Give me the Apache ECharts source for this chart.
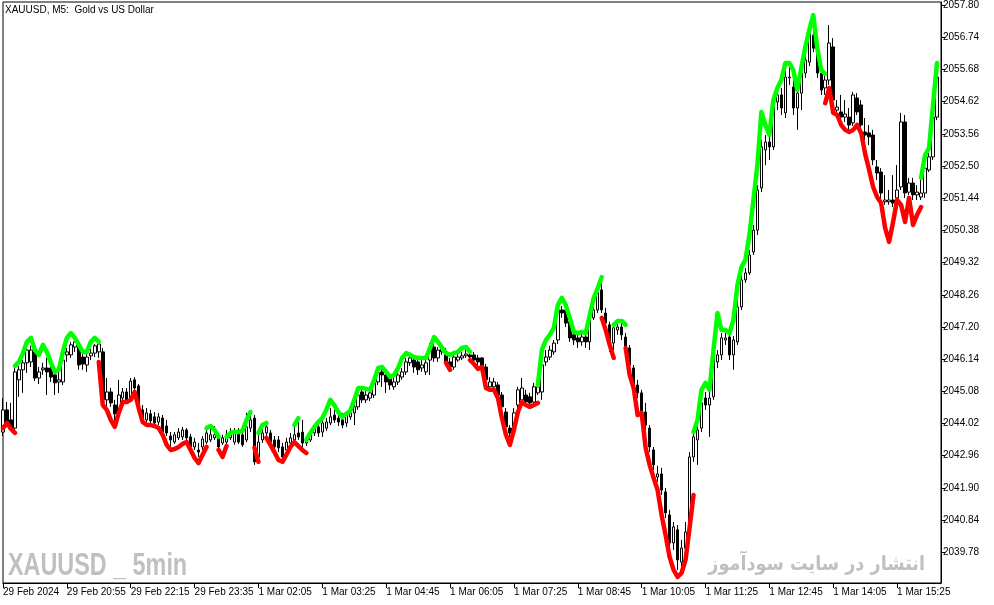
<!DOCTYPE html>
<html>
<head>
<meta charset="utf-8">
<title>XAUUSD M5</title>
<script src="https://cdn.jsdelivr.net/npm/echarts@6.0.0/dist/echarts.min.js"></script>
<style>
  html, body { margin: 0; padding: 0; background: #fff; }
  #chart { width: 994px; height: 605px; }
</style>
</head>
<body>
<div id="chart"></div>
<script>
// M5 candles, 29 Feb 19:35 -> 1 Mar 16:05 (235 bars)
const opens = [
  2043.74, 2044.47, 2044.14, 2043.87, 2045.46, 2045.79, 2046.02, 2046.05, 2046.38, 2045.52,
  2045.79, 2045.85, 2045.85, 2045.62, 2045.39, 2045.39, 2046.28, 2046.28, 2046.54, 2046.54,
  2046.21, 2045.95, 2046.25, 2046.34, 2046.38, 2046.38, 2044.80, 2045.06, 2044.63, 2044.40,
  2044.86, 2045.06, 2044.86, 2045.46, 2045.26, 2044.47, 2044.14, 2044.34, 2044.24, 2044.07,
  2044.20, 2043.94, 2043.61, 2043.41, 2043.55, 2043.58, 2043.81, 2043.58, 2043.25, 2043.15,
  2043.25, 2043.41, 2043.48, 2043.55, 2043.55, 2043.38, 2043.41, 2043.55, 2043.41, 2043.74,
  2043.65, 2043.48, 2043.87, 2044.20, 2042.92, 2043.48, 2043.71, 2043.71, 2043.48, 2043.48,
  2043.25, 2043.15, 2043.38, 2043.48, 2043.71, 2043.74, 2043.38, 2043.48, 2043.71, 2043.91,
  2043.74, 2043.87, 2044.04, 2044.30, 2044.20, 2044.14, 2044.04, 2044.24, 2044.37, 2044.57,
  2045.06, 2044.80, 2044.86, 2044.96, 2045.39, 2045.72, 2045.62, 2045.52, 2045.23, 2045.39,
  2045.55, 2045.72, 2046.02, 2046.11, 2046.05, 2045.85, 2045.72, 2046.11, 2046.54, 2046.18,
  2046.38, 2046.38, 2046.05, 2045.88, 2046.11, 2046.18, 2046.25, 2046.28, 2046.28, 2046.18,
  2046.18, 2045.88, 2045.23, 2045.23, 2045.29, 2044.96, 2044.40, 2043.87, 2043.91, 2044.63,
  2044.80, 2044.96, 2044.90, 2044.73, 2045.03, 2045.06, 2046.05, 2046.21, 2046.38, 2046.77,
  2047.76, 2047.76, 2047.37, 2046.94, 2046.84, 2046.71, 2046.87, 2046.71, 2047.50, 2047.76,
  2048.42, 2047.66, 2047.27, 2046.67, 2047.10, 2047.20, 2046.87, 2046.51, 2045.85, 2045.29,
  2045.03, 2044.40, 2043.87, 2043.15, 2042.26, 2042.36, 2041.77, 2041.01, 2040.09, 2040.52,
  2039.46, 2039.92, 2040.35, 2042.92, 2043.48, 2043.87, 2044.86, 2044.63, 2044.90, 2046.05,
  2046.28, 2046.77, 2046.87, 2046.28, 2046.71, 2047.86, 2048.75, 2048.98, 2049.67, 2050.39,
  2051.78, 2053.03, 2053.29, 2053.13, 2054.61, 2054.84, 2054.25, 2055.40, 2055.10, 2054.41,
  2054.90, 2055.56, 2055.92, 2056.81, 2056.42, 2055.56, 2055.07, 2055.33, 2056.42, 2054.34,
  2054.28, 2054.11, 2054.11, 2053.92, 2054.74, 2054.51, 2053.62, 2053.59, 2053.52, 2052.47,
  2052.30, 2051.32, 2051.32, 2051.38, 2051.45, 2051.81, 2053.95, 2051.64, 2051.94, 2051.55,
  2051.48, 2051.61, 2052.37, 2052.80, 2054.11
];
const closes = [
  2044.47, 2044.07, 2043.87, 2045.72, 2045.79, 2046.02, 2046.44, 2046.44, 2045.52, 2045.72,
  2045.85, 2045.72, 2045.55, 2045.36, 2045.46, 2046.11, 2046.38, 2046.61, 2046.71, 2045.95,
  2045.98, 2046.21, 2046.34, 2046.58, 2046.64, 2044.80, 2045.06, 2044.70, 2044.34, 2044.96,
  2045.06, 2044.80, 2045.42, 2045.19, 2044.47, 2044.14, 2044.37, 2044.11, 2044.04, 2044.24,
  2043.74, 2043.71, 2043.48, 2043.65, 2043.74, 2043.81, 2043.55, 2043.25, 2043.41, 2043.08,
  2043.51, 2043.71, 2043.65, 2043.65, 2043.25, 2043.55, 2043.65, 2043.74, 2043.74, 2043.41,
  2043.32, 2043.91, 2044.14, 2042.76, 2043.41, 2043.71, 2043.91, 2043.41, 2043.25, 2043.22,
  2042.92, 2043.41, 2043.55, 2043.65, 2043.58, 2043.38, 2043.48, 2043.74, 2043.91, 2043.71,
  2044.04, 2044.07, 2044.24, 2044.14, 2044.07, 2043.97, 2044.30, 2044.37, 2044.57, 2044.96,
  2044.80, 2044.96, 2045.03, 2045.36, 2045.69, 2045.62, 2045.39, 2045.29, 2045.39, 2045.62,
  2045.72, 2046.05, 2046.18, 2045.88, 2045.79, 2045.95, 2046.02, 2046.54, 2046.18, 2046.44,
  2046.54, 2046.05, 2045.88, 2046.21, 2046.21, 2046.25, 2046.31, 2046.21, 2046.11, 2046.05,
  2045.88, 2045.46, 2045.39, 2045.39, 2044.96, 2044.57, 2043.91, 2043.71, 2044.37, 2045.13,
  2045.19, 2044.73, 2044.70, 2045.23, 2045.23, 2045.95, 2046.21, 2046.44, 2046.67, 2047.76,
  2047.66, 2047.33, 2046.84, 2046.77, 2046.71, 2046.87, 2046.71, 2047.50, 2047.76, 2048.32,
  2047.76, 2047.33, 2046.67, 2047.17, 2047.20, 2046.94, 2046.51, 2045.95, 2045.29, 2045.03,
  2044.40, 2043.97, 2043.25, 2042.66, 2042.36, 2041.83, 2041.08, 2040.09, 2040.62, 2039.53,
  2039.92, 2040.45, 2042.92, 2043.58, 2043.81, 2044.70, 2044.63, 2044.86, 2046.28, 2046.28,
  2046.84, 2046.84, 2046.28, 2046.77, 2047.86, 2048.75, 2048.98, 2049.57, 2050.39, 2051.71,
  2053.13, 2053.29, 2053.13, 2054.44, 2054.84, 2054.41, 2055.43, 2055.43, 2054.41, 2054.90,
  2055.56, 2055.99, 2056.88, 2056.38, 2055.56, 2055.00, 2055.33, 2056.55, 2054.67, 2054.44,
  2054.11, 2054.21, 2053.85, 2054.84, 2054.28, 2053.85, 2053.52, 2053.46, 2052.70, 2052.27,
  2051.61, 2051.38, 2051.38, 2051.28, 2051.71, 2053.95, 2051.61, 2051.94, 2051.55, 2051.64,
  2051.61, 2052.43, 2052.80, 2054.11, 2055.43
];
const lows = [
  2043.61, 2043.91, 2043.81, 2043.74, 2044.90, 2045.03, 2045.69, 2045.88, 2045.42, 2045.32,
  2045.62, 2044.96, 2045.39, 2044.96, 2045.03, 2045.29, 2046.05, 2046.18, 2046.38, 2045.79,
  2045.79, 2045.72, 2046.11, 2046.21, 2046.18, 2044.67, 2044.53, 2044.57, 2044.04, 2044.27,
  2044.73, 2044.67, 2044.80, 2045.06, 2044.34, 2044.01, 2044.07, 2043.97, 2043.87, 2043.97,
  2043.68, 2043.61, 2043.25, 2043.35, 2043.48, 2043.48, 2043.45, 2043.18, 2043.15, 2042.92,
  2043.15, 2043.35, 2043.41, 2043.48, 2043.18, 2043.32, 2043.28, 2043.48, 2043.32, 2043.35,
  2043.25, 2043.41, 2043.74, 2042.66, 2042.82, 2043.38, 2043.61, 2043.32, 2043.15, 2043.08,
  2042.76, 2043.02, 2043.28, 2043.41, 2043.48, 2043.05, 2043.28, 2043.41, 2043.61, 2043.58,
  2043.58, 2043.78, 2043.97, 2044.04, 2043.94, 2043.87, 2043.91, 2044.14, 2043.97, 2044.47,
  2044.70, 2044.70, 2044.76, 2044.86, 2045.29, 2045.23, 2045.03, 2045.13, 2045.13, 2045.29,
  2045.46, 2045.62, 2045.92, 2045.69, 2045.62, 2045.72, 2045.62, 2045.62, 2046.05, 2046.05,
  2046.28, 2045.95, 2045.79, 2045.79, 2046.05, 2046.11, 2046.18, 2046.05, 2045.98, 2045.92,
  2045.72, 2045.36, 2045.13, 2045.13, 2044.86, 2044.47, 2043.81, 2043.58, 2043.81, 2044.53,
  2044.70, 2044.63, 2044.60, 2044.63, 2044.96, 2044.80, 2045.92, 2046.11, 2046.28, 2046.64,
  2047.50, 2047.20, 2046.71, 2046.61, 2046.51, 2046.58, 2046.51, 2046.44, 2047.43, 2047.66,
  2047.66, 2047.20, 2046.38, 2046.44, 2046.94, 2046.77, 2046.38, 2045.79, 2045.06, 2044.86,
  2043.91, 2043.81, 2043.08, 2042.49, 2042.10, 2041.67, 2040.91, 2039.92, 2039.86, 2039.20,
  2039.00, 2039.79, 2040.19, 2042.76, 2042.66, 2043.74, 2044.47, 2043.58, 2044.80, 2045.85,
  2046.11, 2046.61, 2046.11, 2045.79, 2046.61, 2047.76, 2048.65, 2048.91, 2049.57, 2050.23,
  2051.64, 2052.53, 2052.70, 2053.03, 2054.34, 2054.18, 2054.08, 2055.17, 2054.18, 2053.69,
  2054.34, 2055.40, 2055.79, 2056.25, 2055.40, 2054.84, 2054.84, 2055.17, 2054.51, 2054.28,
  2054.01, 2053.95, 2053.69, 2053.82, 2054.18, 2053.69, 2053.36, 2053.19, 2052.53, 2052.04,
  2051.38, 2051.22, 2051.22, 2051.15, 2051.38, 2051.71, 2051.45, 2051.55, 2051.38, 2051.38,
  2051.38, 2051.45, 2052.30, 2052.70, 2054.01
];
const highs = [
  2044.86, 2044.73, 2044.70, 2045.92, 2045.92, 2046.11, 2046.58, 2046.58, 2046.48, 2045.88,
  2046.02, 2046.18, 2046.05, 2045.79, 2045.79, 2046.21, 2046.51, 2046.71, 2046.84, 2046.67,
  2046.34, 2046.44, 2046.48, 2046.64, 2046.77, 2046.51, 2045.52, 2045.19, 2044.80, 2045.46,
  2045.19, 2045.19, 2045.52, 2045.55, 2045.32, 2044.63, 2044.53, 2044.47, 2044.40, 2044.37,
  2044.30, 2044.14, 2043.74, 2043.74, 2043.87, 2043.91, 2043.87, 2043.68, 2043.55, 2043.38,
  2043.61, 2043.81, 2043.87, 2043.94, 2043.71, 2043.65, 2043.81, 2043.87, 2043.87, 2043.87,
  2043.81, 2044.37, 2044.40, 2044.30, 2043.81, 2043.87, 2044.04, 2043.81, 2043.61, 2043.61,
  2043.38, 2043.55, 2043.71, 2043.97, 2044.14, 2044.14, 2043.61, 2043.81, 2044.01, 2044.04,
  2044.14, 2044.20, 2044.53, 2044.53, 2044.34, 2044.37, 2044.37, 2044.47, 2044.70, 2045.06,
  2045.16, 2045.09, 2045.13, 2045.46, 2045.79, 2045.95, 2045.79, 2045.69, 2045.52, 2045.72,
  2045.85, 2046.18, 2046.31, 2046.25, 2046.11, 2046.11, 2046.11, 2046.67, 2046.67, 2046.54,
  2046.67, 2046.51, 2046.18, 2046.31, 2046.31, 2046.38, 2046.44, 2046.38, 2046.38, 2046.28,
  2046.21, 2045.98, 2045.55, 2045.52, 2045.39, 2045.06, 2044.53, 2043.97, 2044.53, 2045.23,
  2045.52, 2045.13, 2045.03, 2045.36, 2045.36, 2046.05, 2046.44, 2046.58, 2046.77, 2047.92,
  2047.89, 2047.86, 2047.50, 2047.10, 2046.97, 2047.00, 2047.00, 2047.63, 2047.92, 2048.42,
  2048.75, 2047.83, 2047.37, 2047.27, 2047.37, 2047.37, 2047.00, 2046.61, 2045.95, 2045.46,
  2045.13, 2044.70, 2043.97, 2043.25, 2042.63, 2042.56, 2041.90, 2041.18, 2040.78, 2040.68,
  2040.19, 2040.78, 2043.08, 2043.74, 2043.97, 2044.86, 2045.06, 2045.06, 2046.38, 2046.44,
  2047.00, 2047.00, 2047.10, 2046.90, 2048.09, 2048.91, 2049.14, 2049.73, 2050.56, 2051.87,
  2053.36, 2053.52, 2053.52, 2054.67, 2055.00, 2055.07, 2055.66, 2055.92, 2055.33, 2055.17,
  2055.73, 2056.15, 2057.04, 2056.98, 2056.65, 2055.73, 2055.50, 2057.14, 2056.71, 2054.67,
  2054.84, 2054.67, 2054.41, 2054.94, 2054.90, 2054.67, 2054.08, 2053.85, 2053.69, 2052.70,
  2052.43, 2052.20, 2051.71, 2052.20, 2052.53, 2054.25, 2054.18, 2052.11, 2052.11, 2051.87,
  2052.04, 2052.60, 2052.96, 2054.28, 2055.66
];

// indicator line: green (up) and red (down) stretches, keyed by first bar
const greenLine = [
  { from: 3, values: [2045.92, 2046.05, 2046.34, 2046.71, 2046.84, 2046.44, 2046.28, 2046.61, 2046.38, 2046.02, 2045.72,
                      2045.79, 2046.38, 2046.84, 2047.00, 2046.84, 2046.61, 2046.38, 2046.38, 2046.71, 2046.84, 2046.71] },
  { from: 51, values: [2043.87, 2043.94, 2043.81, 2043.58] },
  { from: 56, values: [2043.58, 2043.71, 2043.74, 2043.74, 2043.78, 2044.14, 2044.40] },
  { from: 64, values: [2043.71, 2043.97, 2044.04] },
  { from: 73, values: [2043.97, 2044.20] },
  { from: 76, values: [2043.48, 2043.71, 2043.91, 2044.07, 2044.20, 2044.47, 2044.80, 2044.63, 2044.40, 2044.24,
                       2044.34, 2044.44, 2044.80, 2045.19, 2045.19, 2045.16, 2045.13, 2045.46, 2045.85, 2045.88,
                       2045.72, 2045.55, 2045.62, 2045.85, 2046.18, 2046.34, 2046.28, 2046.21, 2046.18, 2046.18,
                       2046.18, 2046.51, 2046.87, 2046.71, 2046.51, 2046.34, 2046.28, 2046.34, 2046.38, 2046.51,
                       2046.54, 2046.38] },
  { from: 134, values: [2045.29, 2046.44, 2046.77, 2046.94, 2047.17, 2047.92, 2048.16, 2047.92, 2047.50, 2047.04,
                        2047.00, 2047.04, 2047.00, 2047.59, 2048.16, 2048.48, 2048.84] },
  { from: 153, values: [2047.27, 2047.40, 2047.40, 2047.27] },
  { from: 173, values: [2043.74, 2044.14, 2045.13, 2045.36, 2045.13, 2046.44, 2047.66, 2047.10, 2047.10, 2047.00,
                        2047.43, 2048.58, 2049.17, 2049.41, 2050.23, 2051.38, 2052.53, 2054.28, 2053.85, 2053.52,
                        2054.67, 2055.07, 2055.33, 2055.89, 2055.89, 2055.66, 2055.00, 2055.73, 2056.42, 2056.98,
                        2057.47, 2056.38, 2055.66, 2055.53] },
  { from: 230, values: [2052.11, 2052.86, 2053.09, 2054.51, 2055.89] }
];
const redLine = [
  { from: 0, values: [2043.87, 2044.04, 2043.84, 2043.71] },
  { from: 24, values: [2046.05, 2044.63, 2044.47, 2044.14, 2043.91, 2044.37, 2044.73, 2044.73, 2044.80, 2045.06,
                       2044.53, 2044.07, 2043.97, 2043.97, 2043.94, 2043.87, 2043.65, 2043.32, 2043.15, 2043.18,
                       2043.25, 2043.35, 2043.41, 2043.15, 2042.89, 2042.72, 2042.99, 2043.25] },
  { from: 54, values: [2043.15, 2042.92, 2043.28] },
  { from: 63, values: [2043.22, 2042.76] },
  { from: 66, values: [2043.55, 2043.32, 2043.08, 2042.82, 2042.76, 2042.99, 2043.25, 2043.41, 2043.28, 2043.15, 2043.05] },
  { from: 111, values: [2046.02, 2045.79] },
  { from: 117, values: [2046.11, 2045.98, 2045.82, 2045.88, 2045.19, 2045.13, 2045.13, 2044.86, 2044.20, 2043.65,
                        2043.32, 2043.81, 2044.40, 2044.73, 2044.63, 2044.57, 2044.63, 2044.70] },
  { from: 150, values: [2047.50, 2047.10, 2046.61, 2046.18] },
  { from: 156, values: [2046.51, 2045.62, 2045.19, 2044.30, 2044.37, 2043.22, 2042.66, 2042.23, 2041.83, 2041.01,
                        2040.35, 2039.63, 2039.20, 2038.97, 2039.10, 2039.53, 2040.58, 2041.67] },
  { from: 206, values: [2054.57, 2055.07, 2054.25, 2054.18, 2053.85, 2053.69, 2053.62, 2053.69, 2053.85, 2053.59,
                        2052.90, 2052.37, 2051.81, 2051.48, 2051.28, 2050.46, 2050.00, 2050.66, 2051.38, 2051.22,
                        2050.66, 2051.45, 2050.56, 2050.89, 2051.15] }
];

const yTicks = [2057.80, 2056.74, 2055.68, 2054.62, 2053.56, 2052.50, 2051.44, 2050.38, 2049.32,
                2048.26, 2047.20, 2046.14, 2045.08, 2044.02, 2042.96, 2041.90, 2040.84, 2039.78];
const xTickLabels = ['29 Feb 2024', '29 Feb 20:55', '29 Feb 22:15', '29 Feb 23:35', '1 Mar 02:05',
                     '1 Mar 03:25', '1 Mar 04:45', '1 Mar 06:05', '1 Mar 07:25', '1 Mar 08:45',
                     '1 Mar 10:05', '1 Mar 11:25', '1 Mar 12:45', '1 Mar 14:05', '1 Mar 15:25'];
const labelStep = 16; // one time label every 16 bars

const candleData = opens.map((o, i) => [o, closes[i], lows[i], highs[i]]);
// one spare slot on the right so the last bar sits inside the frame
const categories = Array.from({ length: opens.length + 1 }, (_, i) => String(i));

function spread(segments) {
  const out = new Array(opens.length).fill(null);
  segments.forEach(seg => seg.values.forEach((v, k) => { out[seg.from + k] = v; }));
  return out;
}

const chart = echarts.init(document.getElementById('chart'));
const font = '"Liberation Sans", Arial, sans-serif';

chart.setOption({
  animation: false,
  backgroundColor: '#fff',
  textStyle: { fontFamily: font },
  grid: { left: 2, right: 53, top: 2, bottom: 22, show: true, borderColor: '#000', borderWidth: 1 },
  xAxis: {
    type: 'category',
    data: categories,
    boundaryGap: false,
    axisLine: { lineStyle: { color: '#000', width: 1 } },
    axisTick: { interval: labelStep - 1, length: 5, lineStyle: { color: '#000' } },
    axisLabel: {
      interval: labelStep - 1, align: 'left', margin: 4, fontSize: 10, color: '#000', fontFamily: font,
      formatter: (v, i) => xTickLabels[i / labelStep] || ''
    },
    splitLine: { show: false }
  },
  yAxis: {
    type: 'value',
    position: 'right',
    min: 2038.77,
    max: 2057.90,
    axisLine: { show: true, lineStyle: { color: '#000' } },
    axisTick: { show: true, customValues: yTicks, length: 4, lineStyle: { color: '#000' } },
    axisLabel: {
      customValues: yTicks, margin: 2, fontSize: 10, color: '#000', fontFamily: font,
      formatter: v => v.toFixed(2)
    },
    splitLine: { show: false }
  },
  series: [
    {
      type: 'candlestick',
      data: candleData,
      barWidth: 3,
      z: 2,
      itemStyle: { color: '#fff', color0: '#000', borderColor: '#000', borderColor0: '#000', borderWidth: 1 }
    },
    {
      type: 'line',
      data: spread(greenLine),
      symbol: 'none',
      z: 3,
      lineStyle: { color: '#00ff00', width: 4.5, cap: 'round', join: 'round' }
    },
    {
      type: 'line',
      data: spread(redLine),
      symbol: 'none',
      z: 3,
      lineStyle: { color: '#ff0000', width: 4.5, cap: 'round', join: 'round' }
    }
  ],
  graphic: [
    {
      type: 'text', x: 5, y: 10,
      style: { text: 'XAUUSD, M5:  Gold vs US Dollar', fill: '#000', font: '10px ' + font, verticalAlign: 'middle' }
    },
    {
      type: 'text', x: 8, y: 566, scaleX: 0.73, z: 1,
      style: { text: 'XAUUSD _ 5min', fill: '#c0c0c0', font: 'bold 32px ' + font, verticalAlign: 'middle' }
    },
    {
      type: 'text', x: 925, y: 565, scaleX: 0.88, z: 1,
      style: { text: 'انتشار در سایت سودآموز', fill: '#c0c0c0', font: 'bold 20px "DejaVu Sans", sans-serif', align: 'right', verticalAlign: 'middle' }
    }
  ]
});
</script>
</body>
</html>
